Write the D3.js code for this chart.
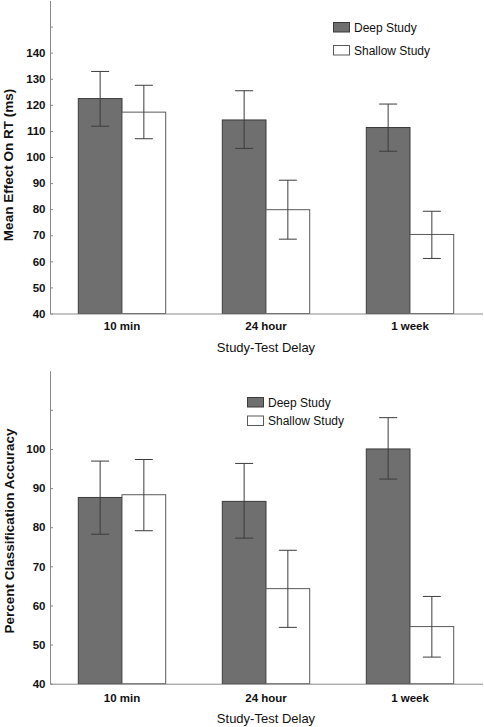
<!DOCTYPE html>
<html>
<head>
<meta charset="utf-8">
<script src="https://cdn.jsdelivr.net/npm/d3@7"></script>
<style>
  html, body { margin: 0; padding: 0; background: #fff; }
  svg { display: block; font-family: "Liberation Sans", Arial, sans-serif; }
</style>
</head>
<body>
<svg id="chart" width="484" height="727"></svg>
<script>
// ---- data ----
const categories = ["10 min", "24 hour", "1 week"];
const seriesNames = ["Deep Study", "Shallow Study"];

// Top panel: Mean Effect On RT (ms)
const rtDeep = [122.4, 114.2, 111.3];
const rtDeepLow = [111.8, 103.3, 102.2];
const rtDeepHigh = [132.8, 125.4, 120.3];
const rtShallow = [117.2, 79.8, 70.3];
const rtShallowLow = [107.0, 68.5, 61.1];
const rtShallowHigh = [127.5, 91.1, 79.2];
const rtTicks = [40, 50, 60, 70, 80, 90, 100, 110, 120, 130, 140, 150];
const rtTickLabels = ["40", "50", "60", "70", "80", "90", "100", "110", "120", "130", "140", ""];

// Bottom panel: Percent Classification Accuracy
const accDeep = [87.6, 86.6, 100.0];
const accDeepLow = [78.2, 77.2, 92.3];
const accDeepHigh = [96.9, 96.3, 108.0];
const accShallow = [88.3, 64.3, 54.6];
const accShallowLow = [79.1, 54.4, 46.8];
const accShallowHigh = [97.3, 74.1, 62.3];
const accTicks = [40, 50, 60, 70, 80, 90, 100, 110];
const accTickLabels = ["40", "50", "60", "70", "80", "90", "100", ""];

const xTitle = "Study-Test Delay";

// ---- styling ----
const colors = { "Deep Study": "#6f6f6f", "Shallow Study": "#ffffff" };
const strokes = { "Deep Study": "#3a3a3a", "Shallow Study": "#5a5a5a" };
const axisColor = "#8a8a8a";
const errColor = "#3c3c3c";

const svg = d3.select("#chart");

function panel(cfg) {
  const g = svg.append("g");
  const x = d3.scaleBand().domain(categories).range([50, 482])
    .paddingInner(0.393).paddingOuter(0.1965);
  const xs = d3.scaleBand().domain(seriesNames).range([0, x.bandwidth()]);
  const y = d3.scaleLinear().domain(cfg.domain).range(cfg.yRange);

  const rows = [];
  categories.forEach((c, i) => {
    rows.push({ cat: c, s: "Deep Study", v: cfg.deep[i], lo: cfg.deepLow[i], hi: cfg.deepHigh[i] });
    rows.push({ cat: c, s: "Shallow Study", v: cfg.shallow[i], lo: cfg.shallowLow[i], hi: cfg.shallowHigh[i] });
  });

  // bars
  g.selectAll("rect.bar").data(rows).join("rect")
    .attr("class", "bar")
    .attr("x", d => x(d.cat) + xs(d.s))
    .attr("y", d => y(d.v))
    .attr("width", xs.bandwidth())
    .attr("height", d => y(cfg.domain[0]) - y(d.v))
    .attr("fill", d => colors[d.s])
    .attr("stroke", d => strokes[d.s])
    .attr("stroke-width", 1);

  // error bars
  const cap = 9;
  const eb = g.selectAll("g.err").data(rows).join("g").attr("class", "err")
    .attr("stroke", errColor).attr("stroke-width", 1);
  eb.append("line")
    .attr("x1", d => x(d.cat) + xs(d.s) + xs.bandwidth() / 2)
    .attr("x2", d => x(d.cat) + xs(d.s) + xs.bandwidth() / 2)
    .attr("y1", d => y(d.lo)).attr("y2", d => y(d.hi));
  eb.append("line")
    .attr("x1", d => x(d.cat) + xs(d.s) + xs.bandwidth() / 2 - cap)
    .attr("x2", d => x(d.cat) + xs(d.s) + xs.bandwidth() / 2 + cap)
    .attr("y1", d => y(d.hi)).attr("y2", d => y(d.hi));
  eb.append("line")
    .attr("x1", d => x(d.cat) + xs(d.s) + xs.bandwidth() / 2 - cap)
    .attr("x2", d => x(d.cat) + xs(d.s) + xs.bandwidth() / 2 + cap)
    .attr("y1", d => y(d.lo)).attr("y2", d => y(d.lo));

  // y axis
  const yAxis = d3.axisLeft(y).tickValues(cfg.ticks)
    .tickFormat((d, i) => cfg.tickLabels[i])
    .tickSizeInner(-3).tickSizeOuter(0).tickPadding(4.5);
  const ya = g.append("g").attr("transform", "translate(50,0)").call(yAxis);
  ya.select(".domain").attr("stroke", axisColor);
  ya.selectAll(".tick line").attr("stroke", axisColor);
  ya.selectAll(".tick text").attr("fill", "#111").attr("font-size", 11.5)
    .attr("font-weight", "bold").attr("font-family", "Liberation Sans, Arial, sans-serif");

  // x axis
  const xAxis = d3.axisBottom(x).tickSize(0).tickSizeOuter(0).tickPadding(cfg.xPad);
  const xa = g.append("g").attr("transform", `translate(0,${y(cfg.domain[0])})`).call(xAxis);
  xa.select(".domain").attr("stroke", axisColor).attr("d", `M50.5,0.5H483`);
  xa.selectAll(".tick text").attr("fill", "#111").attr("font-size", 11.5)
    .attr("font-weight", "bold").attr("font-family", "Liberation Sans, Arial, sans-serif");

  // titles
  g.append("text")
    .attr("x", 266).attr("y", cfg.xTitleY)
    .attr("text-anchor", "middle").attr("font-size", 13).attr("fill", "#111")
    .text(xTitle);
  g.append("text")
    .attr("transform", `translate(${cfg.yTitleX},${cfg.yTitleC}) rotate(-90)`)
    .attr("text-anchor", "middle").attr("font-size", 13.5).attr("font-weight", "bold").attr("fill", "#111")
    .text(cfg.yTitle);

  // legend
  const lg = g.append("g").attr("transform", `translate(${cfg.legX},${cfg.legY})`);
  const li = lg.selectAll("g").data(seriesNames).join("g")
    .attr("transform", (d, i) => `translate(0,${i * cfg.legStep})`);
  li.append("rect").attr("x", 0.5).attr("y", 0.5).attr("width", 16).attr("height", 9.5)
    .attr("fill", d => colors[d]).attr("stroke", d => strokes[d]);
  li.append("text").attr("x", 21).attr("y", 9.5).attr("font-size", 12).attr("fill", "#111")
    .text(d => d);
}

panel({
  domain: [40, 160], yRange: [313.5, 0.5],
  deep: rtDeep, deepLow: rtDeepLow, deepHigh: rtDeepHigh,
  shallow: rtShallow, shallowLow: rtShallowLow, shallowHigh: rtShallowHigh,
  ticks: rtTicks, tickLabels: rtTickLabels,
  xPad: 8, xTitleY: 352, yTitleX: 13, yTitleC: 165,
  yTitle: "Mean Effect On RT (ms)",
  legX: 333, legY: 22, legStep: 23
});

panel({
  domain: [40, 120], yRange: [683.7, 370.7],
  deep: accDeep, deepLow: accDeepLow, deepHigh: accDeepHigh,
  shallow: accShallow, shallowLow: accShallowLow, shallowHigh: accShallowHigh,
  ticks: accTicks, tickLabels: accTickLabels,
  xPad: 10, xTitleY: 723, yTitleX: 14, yTitleC: 531,
  yTitle: "Percent Classification Accuracy",
  legX: 247, legY: 397, legStep: 18.5
});
</script>
</body>
</html>
